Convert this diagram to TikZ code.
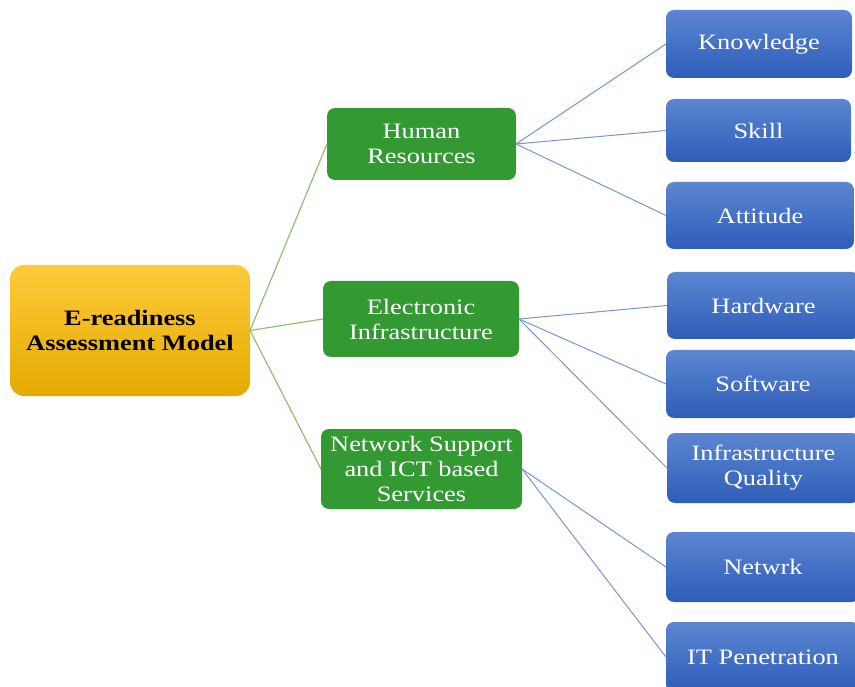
\documentclass[tikz,border=0pt]{standalone}
\usepackage{fontspec}
\setmainfont[FakeStretch=1.2]{Liberation Serif}
\definecolor{orhaut}{HTML}{FFCA3A}
\definecolor{ormilieu}{HTML}{FFC000}
\definecolor{orbas}{HTML}{E3AA00}
\definecolor{vert}{HTML}{339933}
\definecolor{bleuhaut}{HTML}{5C86D2}
\definecolor{bleubas}{HTML}{2E5DB8}
\definecolor{traitvert}{HTML}{8CC46C}
\definecolor{traitbleu}{HTML}{7496D8}

\begin{document}
\begin{tikzpicture}[x=1pt,y=-1pt]
\tikzset{racine/.style={rounded corners=14pt, top color=orhaut, middle color=ormilieu, bottom color=orbas, align=center, inner sep=0pt, outer sep=0pt, font=\fontsize{22}{25}\selectfont\bfseries, text=black},
groupe/.style={rounded corners=8pt, fill=vert, align=center, inner sep=0pt, outer sep=0pt, font=\fontsize{22}{25}\selectfont, text=white},
feuille/.style={rounded corners=8pt, top color=bleuhaut, bottom color=bleubas, align=center, inner sep=0pt, outer sep=0pt, font=\fontsize{22}{25}\selectfont, text=white},
lienvert/.style={draw=traitvert, line width=1.2pt},
lienbleu/.style={draw=traitbleu, line width=1pt}}
\useasboundingbox (0,0) rectangle (855,687);
\clip (0,0) rectangle (855,687);
\node[racine, minimum width=240pt, minimum height=131pt] (R) at (130,330.5) {E-readiness\\Assessment Model};
\node[groupe, minimum width=189pt, minimum height=72pt] (G1) at (421.5,144) {Human\\Resources};
\node[groupe, minimum width=196pt, minimum height=76pt] (G2) at (421,319) {Electronic\\Infrastructure};
\node[groupe, minimum width=201pt, minimum height=80pt] (G3) at (421.5,469) {Network Support\\and ICT based\\Services};
\node[feuille, minimum width=186pt, minimum height=68pt] (F1) at (759,44) {Knowledge};
\node[feuille, minimum width=185pt, minimum height=63pt] (F2) at (758.5,130.5) {Skill};
\node[feuille, minimum width=188pt, minimum height=67pt] (F3) at (760,215.5) {Attitude};
\node[feuille, minimum width=193pt, minimum height=67pt] (F4) at (763.5,305.5) {Hardware};
\node[feuille, minimum width=194pt, minimum height=68pt] (F5) at (763,384) {Software};
\node[feuille, minimum width=193pt, minimum height=70pt] (F6) at (763.5,468) {Infrastructure\\Quality};
\node[feuille, minimum width=194pt, minimum height=70pt] (F7) at (763,567) {Netwrk};
\node[feuille, minimum width=194pt, minimum height=70pt] (F8) at (763,657) {IT Penetration};
\draw[lienvert] (R.east) -- (G1.west);
\draw[lienvert] (R.east) -- (G2.west);
\draw[lienvert] (R.east) -- (G3.west);
\draw[lienbleu] (G1.east) -- (F1.west);
\draw[lienbleu] (G1.east) -- (F2.west);
\draw[lienbleu] (G1.east) -- (F3.west);
\draw[lienbleu] (G2.east) -- (F4.west);
\draw[lienbleu] (G2.east) -- (F5.west);
\draw[lienbleu] (G2.east) -- (F6.west);
\draw[lienbleu] (G3.east) -- (F7.west);
\draw[lienbleu] (G3.east) -- (F8.west);
\end{tikzpicture}
\end{document}
